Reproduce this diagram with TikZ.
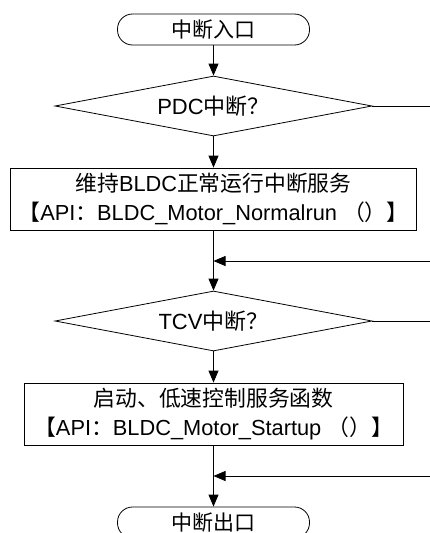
\documentclass[tikz,border=0pt]{standalone}
\usepackage{fontspec}
\setmainfont{Liberation Sans}
\newfontfamily\cjk{Noto Sans CJK SC}
\usetikzlibrary{shapes.geometric,arrows.meta}

\begin{document}
\begin{tikzpicture}[
    x=1pt, y=-1pt,
    terminal/.style={rectangle, draw, rounded corners=15pt, minimum width=192pt, minimum height=31pt, inner sep=0pt, font=\fontsize{21}{23}\selectfont},
    decision/.style={diamond, draw, shape aspect=5.3, minimum width=317pt, minimum height=60pt, inner sep=0pt, font=\fontsize{22}{24}\selectfont},
    process/.style={rectangle, draw, minimum height=62pt, inner sep=0pt, align=center, font=\fontsize{21.8}{29}\selectfont},
    arrow/.style={-{Triangle[length=12pt,width=10pt]}, line width=0.8pt}
]
\useasboundingbox (0,0) rectangle (430,533);
\clip (0,0) rectangle (430,533);
\tikzset{every node/.append style={line width=0.8pt}}

% Entree et decisions
\node[terminal] (entry) at (213.5,29.5) {\cjk 中断入口};
\node[decision] (pdc) at (213.5,106) {PDC{\cjk 中断？}};
\node[process, minimum width=406pt] (normal) at (213.5,199) {{\cjk 维持}BLDC{\cjk 正常运行中断服务}\\{\cjk 【}API{\cjk ：}BLDC\_Motor\_Normalrun {\cjk （）}{\cjk 】}};
\coordinate (merge1) at (213.5,261);
\node[decision] (tcv) at (213.5,321) {TCV{\cjk 中断？}};
\node[process, minimum width=379pt] (startup) at (213.5,414) {{\cjk 启动、低速控制服务函数}\\{\cjk 【}API{\cjk ：}BLDC\_Motor\_Startup {\cjk （）}{\cjk 】}};
\coordinate (merge2) at (213.5,476);
\node[terminal] (exit) at (213.5,522.5) {\cjk 中断出口};

% Fleches principales
\draw[arrow] (entry) -- (pdc);
\draw[arrow] (pdc) -- (normal);
\draw[arrow] (normal) -- (tcv);
\draw[arrow] (tcv) -- (startup);
\draw[arrow] (startup) -- (exit);

% Branches "non" (sortent a droite)
\draw[arrow] (pdc.east) -- ++(80,0) |- (merge1);
\draw[arrow] (tcv.east) -- ++(80,0) |- (merge2);

\end{tikzpicture}
\end{document}
